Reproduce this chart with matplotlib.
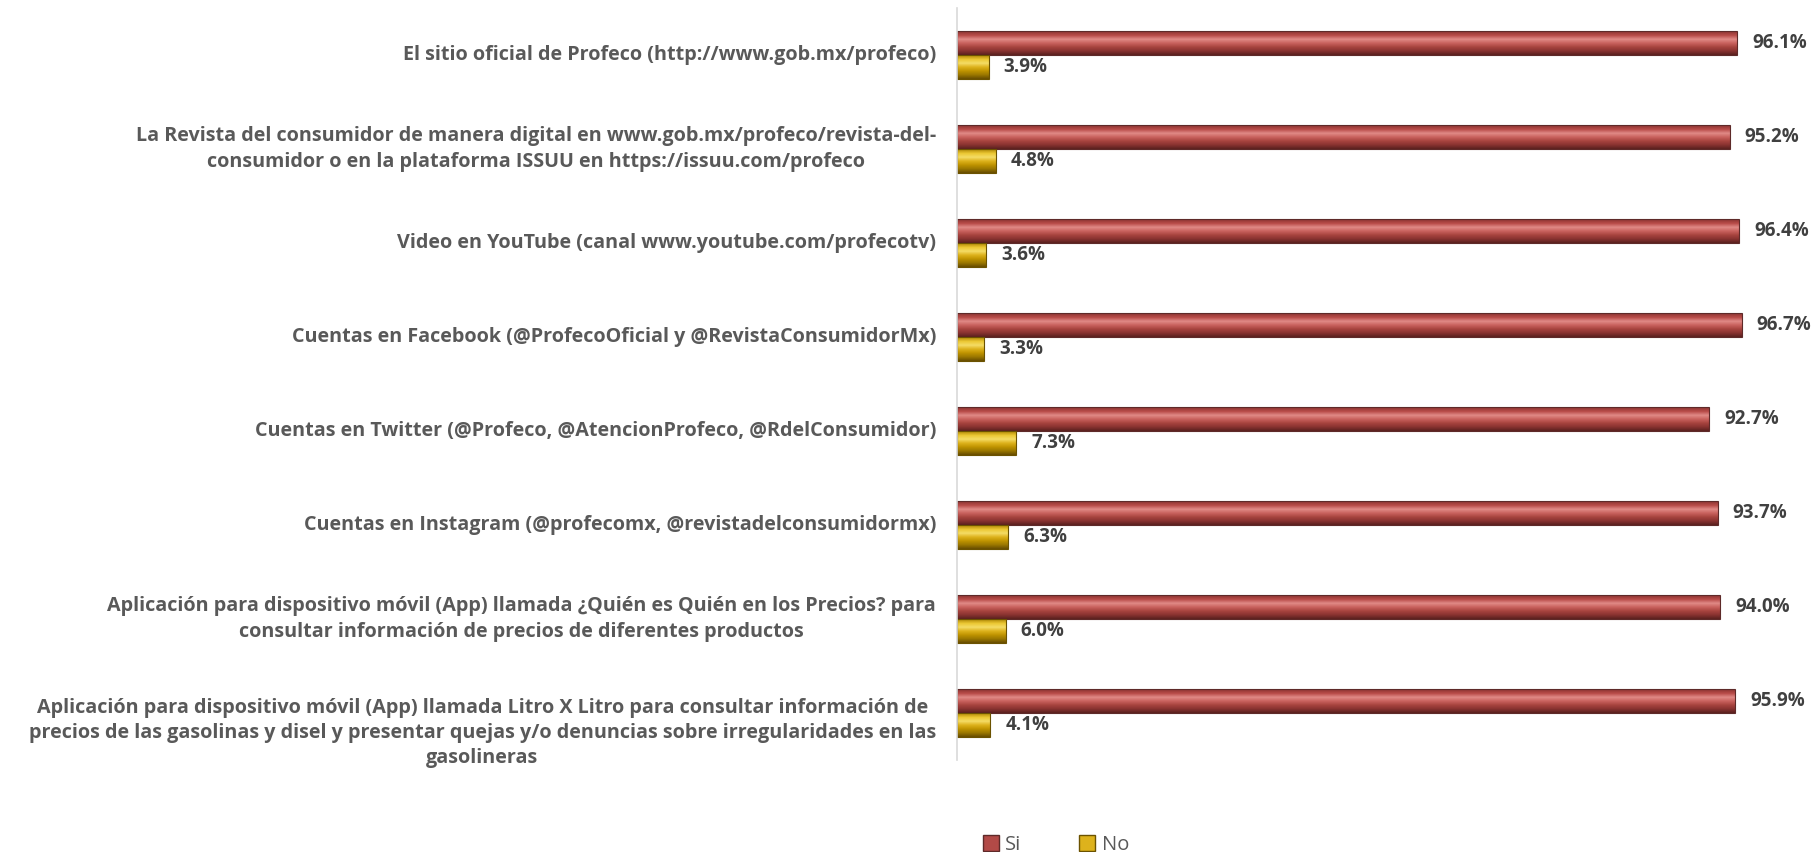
import matplotlib
matplotlib.use("Agg")
import matplotlib.pyplot as plt
from matplotlib.patches import Rectangle
from matplotlib.colors import LinearSegmentedColormap
from matplotlib.transforms import offset_copy, blended_transform_factory
import numpy as np

categories = [
    "El sitio oficial de Profeco (http://www.gob.mx/profeco)",
    "La Revista del consumidor de manera digital en www.gob.mx/profeco/revista-del-\nconsumidor o en la plataforma ISSUU en https://issuu.com/profeco",
    "Video en YouTube (canal www.youtube.com/profecotv)",
    "Cuentas en Facebook (@ProfecoOficial y @RevistaConsumidorMx)",
    "Cuentas en Twitter (@Profeco, @AtencionProfeco, @RdelConsumidor)",
    "Cuentas en Instagram (@profecomx, @revistadelconsumidormx)",
    "Aplicación para dispositivo móvil (App) llamada ¿Quién es Quién en los Precios? para\nconsultar información de precios de diferentes productos",
    "Aplicación para dispositivo móvil (App) llamada Litro X Litro para consultar información de\nprecios de las gasolinas y disel y presentar quejas y/o denuncias sobre irregularidades en las\ngasolineras",
]
si_values = [96.1, 95.2, 96.4, 96.7, 92.7, 93.7, 94.0, 95.9]
no_values = [3.9, 4.8, 3.6, 3.3, 7.3, 6.3, 6.0, 4.1]
series_names = ["Si", "No"]

plt.rcParams['font.family'] = ['Open Sans', 'DejaVu Sans']

fig = plt.figure(figsize=(18.14, 8.52), dpi=100)
fig.patch.set_facecolor("white")
ax = fig.add_axes([0.5276, 0.108, 0.975 - 0.5276, 0.8826])
ax.set_facecolor("none")

red_cmap = LinearSegmentedColormap.from_list(
    "r", ["#8E3533", "#B84C49", "#E08A86", "#C9625E", "#A8443F", "#8A3331", "#5E2220"])
gold_cmap = LinearSegmentedColormap.from_list(
    "g", ["#B38A08", "#EBC733", "#F4DC66", "#DDB21C", "#BF9300", "#9C7800", "#6B5000"])

bar_h = 0.26
nstrip = 24
y = np.arange(len(categories))


def grad_bar(yc, val, cmap, edge):
    sh = bar_h / nstrip
    top = yc - bar_h / 2
    for k in range(nstrip):
        ax.barh(top + sh * (k + 0.5), val, height=sh * 1.05, left=0,
                color=cmap(k / (nstrip - 1)), linewidth=0)
    ax.barh(yc, val, height=bar_h, left=0, fill=False, edgecolor=edge, linewidth=0.8)


for i in range(len(categories)):
    grad_bar(y[i] - bar_h / 2, si_values[i], red_cmap, "#5E2A29")
    grad_bar(y[i] + bar_h / 2, no_values[i], gold_cmap, "#6B5200")

lab_tr = offset_copy(ax.transData, fig=fig, x=15, y=0, units="dots")
for i in range(len(categories)):
    ax.text(si_values[i], y[i] - bar_h / 2, f"{si_values[i]:.1f}%", transform=lab_tr,
            ha="left", va="center", fontsize=13.5, fontweight="bold", color="#404040")
    ax.text(no_values[i], y[i] + bar_h / 2, f"{no_values[i]:.1f}%", transform=lab_tr,
            ha="left", va="center", fontsize=13.5, fontweight="bold", color="#404040")

# category labels (right-aligned block, centered lines)
cat_base = blended_transform_factory(ax.transAxes, ax.transData)
for i, lab in enumerate(categories):
    nlines = lab.count("\n") + 1
    dy = -20 if nlines == 3 else 0
    tr = offset_copy(cat_base, fig=fig, x=-21, y=dy, units="dots")
    ax.text(0, y[i], lab, transform=tr, ha="right", va="center", multialignment="center",
            fontsize=14.2, fontweight="bold", color="#595959", linespacing=1.36)

ax.set_xlim(0, 100)
ax.set_ylim(len(categories) - 0.5, -0.5)
ax.set_yticks([])
ax.set_xticks([])
for s in ["top", "right", "bottom"]:
    ax.spines[s].set_visible(False)
ax.spines["left"].set_color("#D9D9D9")
ax.spines["left"].set_linewidth(1.2)

handles = [Rectangle((0, 0), 1, 1, facecolor="#B24A47", edgecolor="#5E2A29"),
           Rectangle((0, 0), 1, 1, facecolor="#DDB21C", edgecolor="#6B5200")]
fig.legend(handles, series_names, loc="center left", bbox_to_anchor=(0.535, 0.008),
           ncol=2, frameon=False, fontsize=14.5, handlelength=0.8, handleheight=0.8,
           handletextpad=0.3, columnspacing=2.9, labelcolor="#595959",
           borderpad=0.1)

fig.savefig("out.png", dpi=100, facecolor="white")
